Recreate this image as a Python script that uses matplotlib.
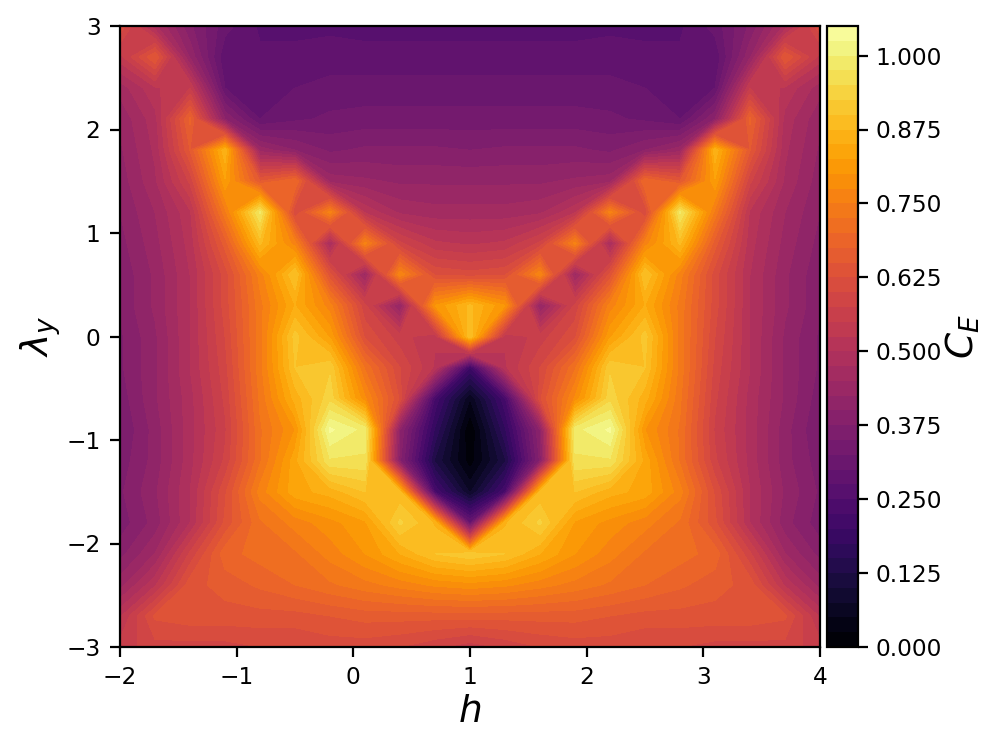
import numpy as np
import matplotlib
matplotlib.use("Agg")
import matplotlib.pyplot as plt

# grid of the scan
h_vals = [-2.0, -1.7, -1.4, -1.1, -0.8, -0.5, -0.2, 0.1, 0.4, 0.7, 1.0,
          1.3, 1.6, 1.9, 2.2, 2.5, 2.8, 3.1, 3.4, 3.7, 4.0]
lambda_vals = [3.0, 2.7, 2.4, 2.1, 1.8, 1.5, 1.2, 0.9, 0.6, 0.3, 0.0,
               -0.3, -0.6, -0.9, -1.2, -1.5, -1.8, -2.1, -2.4, -2.7, -3.0]

# C_E, one row per lambda_y, top row first
ce_values = [
    [.62, .48, .38, .31, .27, .27, .27, .265, .265, .265, .265, .265, .265, .265, .27, .27, .27, .31, .38, .48, .62],
    [.54, .65, .42, .28, .28, .28, .285, .285, .285, .285, .285, .285, .285, .285, .285, .28, .28, .28, .42, .65, .54],
    [.46, .52, .55, .30, .30, .30, .31, .31, .31, .31, .31, .31, .31, .31, .31, .30, .30, .30, .55, .52, .46],
    [.43, .49, .68, .40, .30, .32, .33, .335, .335, .335, .335, .335, .335, .335, .33, .32, .30, .40, .68, .49, .43],
    [.42, .48, .65, .87, .44, .40, .37, .38, .38, .38, .375, .38, .38, .38, .37, .40, .44, .87, .65, .48, .42],
    [.41, .47, .58, .82, .65, .70, .44, .43, .42, .42, .42, .42, .42, .43, .44, .70, .65, .82, .58, .47, .41],
    [.40, .45, .52, .74, .98, .60, .76, .52, .47, .46, .46, .46, .47, .52, .76, .60, .98, .74, .52, .45, .40],
    [.39, .44, .51, .66, .88, .76, .47, .76, .58, .53, .52, .53, .58, .76, .47, .76, .88, .66, .51, .44, .39],
    [.38, .43, .50, .61, .76, .90, .63, .44, .77, .62, .61, .62, .77, .44, .63, .90, .76, .61, .50, .43, .38],
    [.38, .43, .50, .61, .74, .85, .76, .58, .42, .80, .88, .80, .42, .58, .76, .85, .74, .61, .50, .43, .38],
    [.37, .42, .50, .60, .74, .91, .82, .62, .56, .53, .90, .53, .56, .62, .82, .91, .74, .60, .50, .42, .37],
    [.37, .42, .50, .59, .74, .90, .92, .72, .60, .52, .20, .52, .60, .72, .92, .90, .74, .59, .50, .42, .37],
    [.36, .42, .49, .58, .73, .86, .94, .78, .62, .22, .05, .22, .62, .78, .94, .86, .73, .58, .49, .42, .36],
    [.35, .41, .49, .57, .72, .80, 1.03, .99, .40, .17, .0, .17, .40, .99, 1.03, .80, .72, .57, .49, .41, .35],
    [.36, .41, .49, .58, .72, .84, .97, .97, .38, .12, .01, .12, .38, .97, .97, .84, .72, .58, .49, .41, .36],
    [.37, .42, .50, .62, .76, .84, .86, .90, .88, .22, .07, .22, .88, .90, .86, .84, .76, .62, .50, .42, .37],
    [.36, .41, .50, .63, .72, .76, .79, .82, .93, .87, .30, .87, .93, .82, .79, .76, .72, .63, .50, .41, .36],
    [.39, .45, .58, .69, .71, .72, .76, .80, .85, .90, .92, .90, .85, .80, .76, .72, .71, .69, .58, .45, .39],
    [.44, .52, .64, .66, .68, .70, .72, .74, .76, .78, .79, .78, .76, .74, .72, .70, .68, .66, .64, .52, .44],
    [.52, .63, .64, .64, .64, .64, .65, .66, .66, .66, .66, .66, .66, .66, .65, .64, .64, .64, .64, .63, .52],
    [.56, .59, .59, .59, .60, .60, .61, .61, .60, .58, .56, .58, .60, .61, .61, .60, .60, .59, .59, .59, .56],
]

levels = np.arange(0, 1.075, 0.025)

fig = plt.figure(figsize=(4.98, 3.74), dpi=200)
ax = fig.add_axes([120 / 996, 1 - 647 / 748, 700 / 996, 621 / 748])
cax = fig.add_axes([827 / 996, 1 - 647 / 748, 31 / 996, 621 / 748])

cf = ax.contourf(h_vals, lambda_vals, np.array(ce_values), levels=levels, cmap='inferno')
cb = fig.colorbar(cf, cax=cax, ticks=np.arange(0, 1.01, 0.125))
cb.ax.tick_params(labelsize=8.4, pad=2.8)
cb.set_label(r'$C_E$', fontsize=13.5, labelpad=0.5)

ax.set_xticks([-2, -1, 0, 1, 2, 3, 4])
ax.set_yticks([-3, -2, -1, 0, 1, 2, 3])
ax.tick_params(labelsize=8.4)
ax.set_xlabel(r'$h$', fontsize=13.5, labelpad=1.5)
ax.set_ylabel(r'$\lambda_y$', fontsize=13.5, labelpad=1)

plt.savefig('out.png', dpi=200)
